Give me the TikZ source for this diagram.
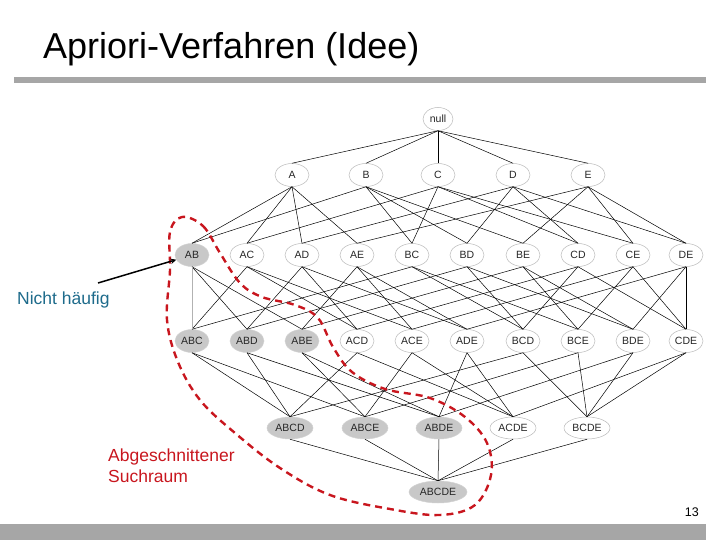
\documentclass[tikz,border=0pt]{standalone}
\usepackage{fontspec}
\setmainfont{Liberation Sans}
\usepackage{xcolor}
\usetikzlibrary{arrows, shapes.geometric}
\definecolor{barGray}{HTML}{A6A6A6}
\definecolor{cutGray}{HTML}{C8C8C8}
\definecolor{pruneRed}{HTML}{C8161E}
\definecolor{noteBlue}{HTML}{1E6B8B}

\begin{document}
\begin{tikzpicture}[
    x=1pt, y=-1pt,
    itemset/.style={ellipse, draw=gray!55, line width=0.5pt, fill=white, minimum width=34pt, minimum height=23pt, inner sep=0pt, font=\fontsize{10.5}{12}\selectfont, text=black!85},
    pruned/.style={itemset, draw=gray!35, fill=cutGray},
    wide/.style={minimum width=46pt, minimum height=22pt},
    edge/.style={black, line width=0.5pt},
    arrow/.style={->, >=stealth, line width=1.5pt},
    cutline/.style={pruneRed, dash pattern=on 7pt off 5pt, line width=2.4pt}
]
\useasboundingbox (0,0) rectangle (720,540);

% frame of the slide
\node[anchor=base west, inner sep=0pt, font=\fontsize{36}{40}\selectfont] (title) at (43,59) {Apriori-Verfahren (Idee)};
\fill[barGray] (14,77) rectangle (706,83);
\fill[barGray] (0,524) rectangle (706,540);
\node[anchor=base east, inner sep=0pt, font=\fontsize{12.5}{14}\selectfont] (page) at (699,516) {13};

% itemset lattice
\node[itemset, minimum width=30pt] (null) at (438,119) {null};

\node[itemset] (A) at (292,175) {A};
\node[itemset] (B) at (366,175) {B};
\node[itemset] (C) at (438,175) {C};
\node[itemset] (D) at (513,175) {D};
\node[itemset] (E) at (588,175) {E};

\node[pruned] (AB) at (192,255) {AB};
\node[itemset] (AC) at (247,255) {AC};
\node[itemset] (AD) at (302,255) {AD};
\node[itemset] (AE) at (357,255) {AE};
\node[itemset] (BC) at (412,255) {BC};
\node[itemset] (BD) at (467,255) {BD};
\node[itemset] (BE) at (523,255) {BE};
\node[itemset] (CD) at (578,255) {CD};
\node[itemset] (CE) at (633,255) {CE};
\node[itemset] (DE) at (686,255) {DE};

\node[pruned] (ABC) at (192,341) {ABC};
\node[pruned] (ABD) at (247,341) {ABD};
\node[pruned] (ABE) at (302,341) {ABE};
\node[itemset] (ACD) at (357,341) {ACD};
\node[itemset] (ACE) at (412,341) {ACE};
\node[itemset] (ADE) at (467,341) {ADE};
\node[itemset] (BCD) at (523,341) {BCD};
\node[itemset] (BCE) at (578,341) {BCE};
\node[itemset] (BDE) at (633,341) {BDE};
\node[itemset] (CDE) at (686,341) {CDE};

\node[pruned, wide] (ABCD) at (290,428) {ABCD};
\node[pruned, wide] (ABCE) at (365,428) {ABCE};
\node[pruned, wide] (ABDE) at (439,428) {ABDE};
\node[itemset, wide] (ACDE) at (513,428) {ACDE};
\node[itemset, wide] (BCDE) at (587,428) {BCDE};

\node[pruned, minimum width=58pt, minimum height=22pt] (ABCDE) at (438,492) {ABCDE};

% subset -> superset edges
\foreach \p/\s in {null/A, null/B, null/C, null/D, null/E,
    A/AB, B/AB, A/AC, C/AC, A/AD, D/AD, A/AE, E/AE, B/BC, C/BC,
    B/BD, D/BD, B/BE, E/BE, C/CD, D/CD, C/CE, E/CE, D/DE, E/DE,
    AC/ABC, BC/ABC, AB/ABD, AD/ABD, BD/ABD, AB/ABE, AE/ABE, BE/ABE,
    AC/ACD, AD/ACD, CD/ACD, AC/ACE, AE/ACE, CE/ACE, AD/ADE, AE/ADE, DE/ADE,
    BC/BCD, BD/BCD, CD/BCD, BC/BCE, BE/BCE, CE/BCE, BD/BDE, BE/BDE, DE/BDE,
    CD/CDE, CE/CDE, DE/CDE,
    ABC/ABCD, ABD/ABCD, ACD/ABCD, BCD/ABCD, ABC/ABCE, ABE/ABCE, ACE/ABCE, BCE/ABCE,
    ABD/ABDE, ABE/ABDE, ADE/ABDE, BDE/ABDE, ACD/ACDE, ACE/ACDE, ADE/ACDE, CDE/ACDE,
    BCD/BCDE, BCE/BCDE, BDE/BCDE, CDE/BCDE,
    ABCD/ABCDE, ABCE/ABCDE, ABDE/ABCDE, ACDE/ABCDE, BCDE/ABCDE}
    \draw[edge] (\p.south) -- (\s.north);
\draw[edge, gray!60] (AB.south) -- (ABC.north);

% pruned part of the search space
\draw[cutline] plot[smooth cycle, tension=0.6] coordinates {
    (182,217) (203,226) (220,253) (240,283) (262,297) (295,305) (318,318)
    (333,347) (352,372) (385,389) (430,398) (465,417) (487,443) (491,475)
    (475,505) (440,515) (390,509) (330,495) (280,468) (235,433) (200,400)
    (178,362) (167,320) (170,270) (170,232)};

% labels
\node[anchor=base west, inner sep=0pt, text=noteBlue, font=\fontsize{17.5}{20}\selectfont] (nicht) at (17,304) {Nicht häufig};
\coordinate (nichttail) at (98,283);
\draw[arrow] (nichttail) -- (AB);
\node[anchor=north west, inner sep=0pt, align=left, text=pruneRed, font=\fontsize{17.5}{21}\selectfont] (cut) at (108,449) {Abgeschnittener\\Suchraum};

\end{tikzpicture}
\end{document}
